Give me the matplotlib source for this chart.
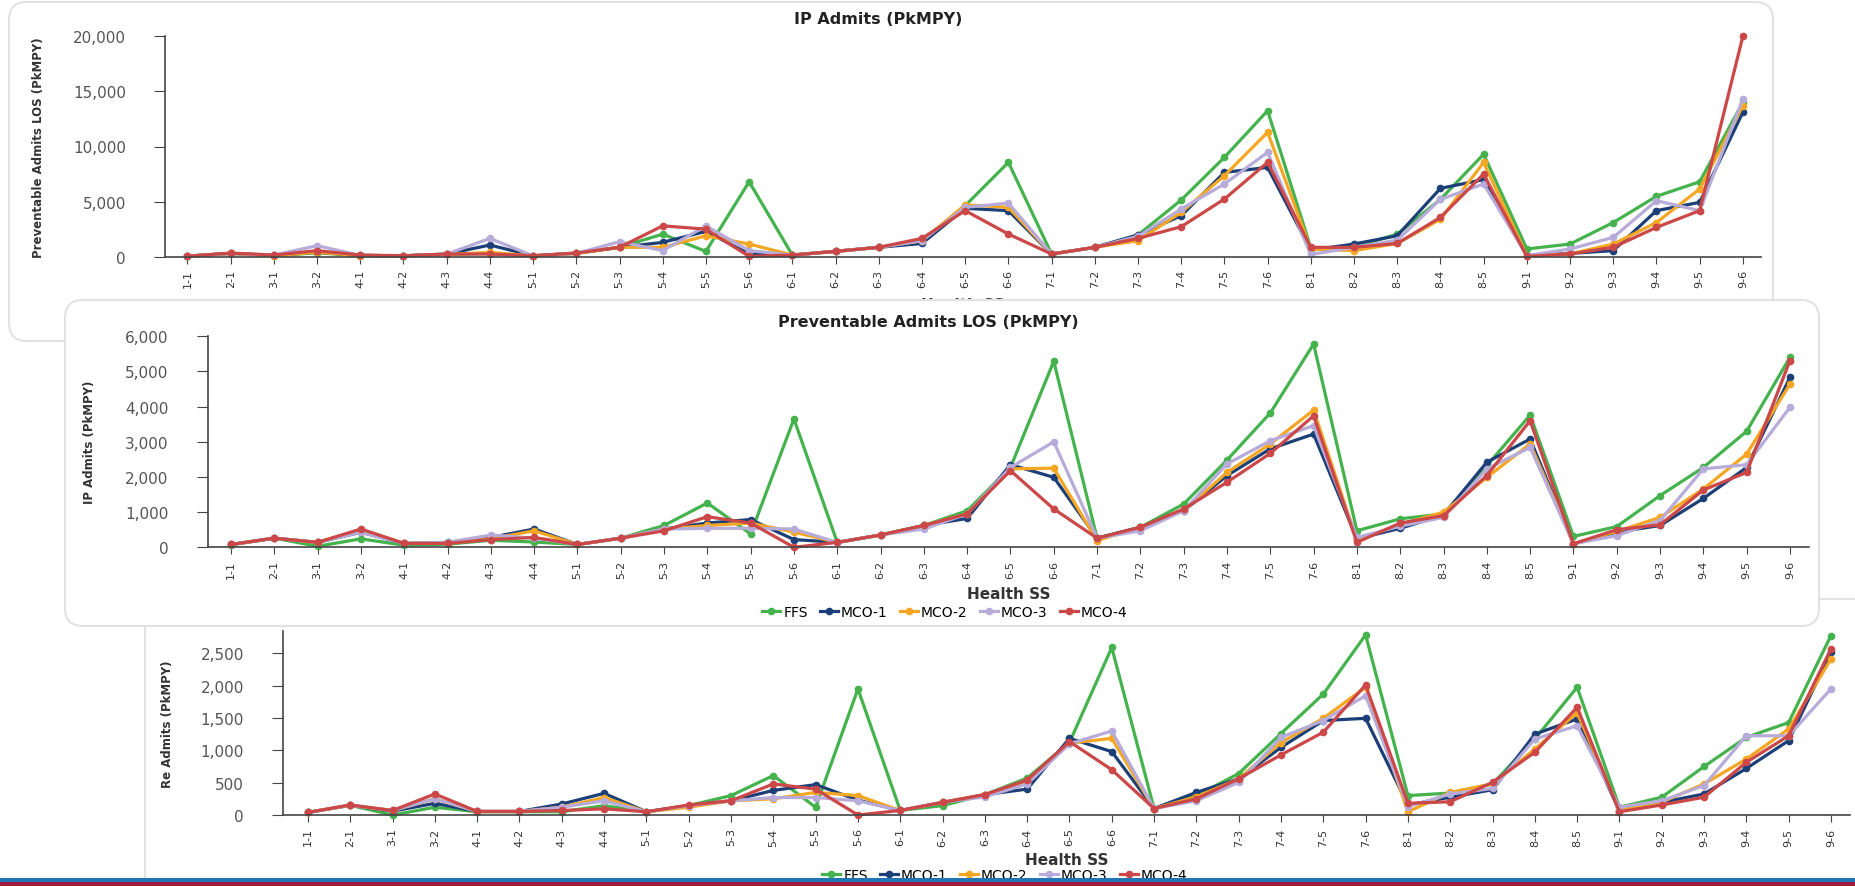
import matplotlib.pyplot as plt
from matplotlib.patches import FancyBboxPatch, Rectangle
import numpy as np

cats = ["1-1", "2-1", "3-1", "3-2", "4-1", "4-2", "4-3", "4-4", "5-1", "5-2", "5-3", "5-4",
        "5-5", "5-6", "6-1", "6-2", "6-3", "6-4", "6-5", "6-6", "7-1", "7-2", "7-3", "7-4",
        "7-5", "7-6", "8-1", "8-2", "8-3", "8-4", "8-5", "9-1", "9-2", "9-3", "9-4", "9-5", "9-6"]
series = ["FFS", "MCO-1", "MCO-2", "MCO-3", "MCO-4"]
colors = ["#45b34d", "#1c3f78", "#f5a623", "#b7acd9", "#cc4747"]

# top chart - IP Admits (PkMPY)
ip_ffs = [50, 300, 100, 350, 100, 80, 200, 300, 80, 300, 850, 2050, 480, 6800, 150, 480, 850, 1400, 4630,
          8560, 240, 850, 1970, 5140, 9020, 13250, 800, 850, 2050, 5200, 9300, 700, 1150, 3100, 5480, 6800, 14000]
ip_mco1 = [50, 300, 120, 400, 120, 80, 240, 1060, 80, 330, 850, 1300, 2300, 250, 150, 500, 850, 1200, 4390,
           4180, 240, 850, 1970, 3720, 7650, 8100, 600, 1150, 1900, 6200, 7000, 100, 300, 550, 4180, 4930, 13100]
ip_mco2 = [50, 300, 100, 400, 100, 80, 200, 390, 80, 300, 850, 850, 1900, 1150, 150, 480, 850, 1450, 4700,
           4480, 240, 850, 1450, 4020, 7350, 11290, 700, 550, 1200, 3400, 8550, 100, 250, 1150, 3100, 6140, 13700]
ip_mco3 = [50, 300, 150, 1000, 120, 80, 240, 1660, 80, 300, 1360, 550, 2800, 550, 150, 480, 850, 1450, 4480,
           4870, 240, 850, 1850, 4330, 6600, 9470, 200, 850, 1500, 5200, 6600, 100, 700, 1750, 5080, 4180, 14300]
ip_mco4 = [50, 330, 150, 550, 150, 90, 240, 240, 90, 330, 850, 2800, 2500, 30, 150, 480, 850, 1660, 4180,
           2060, 240, 850, 1660, 2720, 5230, 8560, 850, 850, 1200, 3570, 7500, 30, 250, 850, 2660, 4180, 20000]

# middle chart - Preventable Admits LOS (PkMPY)
los_ffs = [70, 260, 30, 240, 60, 90, 200, 150, 80, 260, 620, 1260, 380, 3650, 140, 350, 620, 1040, 2270,
           5290, 260, 570, 1230, 2480, 3820, 5780, 470, 810, 950, 2320, 3760, 310, 590, 1470, 2270, 3300, 5400]
los_mco1 = [80, 260, 140, 430, 110, 140, 280, 520, 80, 260, 520, 690, 790, 220, 140, 350, 620, 820, 2350,
            1990, 260, 570, 1040, 2040, 2800, 3220, 240, 540, 920, 2420, 3080, 100, 430, 620, 1390, 2270, 4830]
los_mco2 = [80, 260, 140, 500, 110, 120, 240, 470, 80, 260, 520, 620, 690, 430, 140, 350, 620, 950, 2230,
            2250, 190, 570, 1040, 2130, 2940, 3900, 200, 650, 1000, 1990, 2940, 100, 450, 850, 1660, 2650, 4640]
los_mco3 = [80, 260, 140, 430, 110, 140, 350, 260, 80, 260, 520, 540, 540, 520, 140, 350, 520, 950, 2270,
            3000, 260, 470, 1040, 2370, 3030, 3460, 280, 600, 850, 2230, 2840, 100, 330, 760, 2230, 2350, 3980]
los_mco4 = [80, 260, 140, 520, 110, 110, 220, 280, 80, 260, 470, 870, 690, 0, 140, 350, 620, 950, 2180,
            1090, 260, 570, 1090, 1850, 2670, 3740, 140, 690, 900, 2040, 3600, 100, 500, 640, 1630, 2130, 5310]

# bottom chart - Re Admits (PkMPY)
re_ffs = [40, 150, 0, 120, 50, 50, 50, 145, 50, 145, 300, 610, 120, 1950, 70, 145, 315, 570, 1120,
          2590, 100, 300, 640, 1260, 1870, 2784, 300, 340, 480, 1175, 1975, 120, 275, 750, 1200, 1430, 2775]
re_mco1 = [40, 150, 60, 180, 55, 55, 170, 335, 50, 145, 220, 380, 470, 230, 70, 195, 315, 400, 1185,
           980, 100, 350, 560, 1045, 1460, 1495, 155, 275, 390, 1250, 1485, 65, 195, 325, 720, 1150, 2515]
re_mco2 = [40, 150, 70, 250, 55, 55, 120, 270, 50, 120, 220, 250, 350, 300, 70, 195, 315, 500, 1110,
           1185, 100, 280, 560, 1120, 1495, 1975, 50, 350, 480, 1020, 1580, 80, 200, 480, 865, 1330, 2410]
re_mco3 = [40, 150, 70, 250, 55, 55, 120, 220, 50, 145, 220, 270, 270, 220, 70, 195, 280, 480, 1100,
           1300, 100, 220, 505, 1200, 1460, 1845, 130, 325, 410, 1175, 1380, 120, 220, 455, 1225, 1225, 1950]
re_mco4 = [40, 155, 70, 325, 55, 55, 70, 95, 50, 155, 220, 480, 400, 0, 70, 195, 315, 540, 1135,
           700, 100, 250, 560, 930, 1280, 2010, 180, 205, 505, 970, 1665, 50, 155, 275, 815, 1225, 2570]

W, H = 1856, 887
fig = plt.figure(figsize=(W / 100, H / 100), dpi=100)
fig.patch.set_facecolor("white")


def layer(z):
    # transparent full-figure axes in pixel units, used for the cards and stripes
    a = fig.add_axes([0, 0, 1, 1], zorder=z)
    a.set_xlim(0, W)
    a.set_ylim(H, 0)
    a.axis("off")
    return a


def panel(rect, data, ymax, yticks, xlim, ylabel, lab_x, xlab_y):
    x0, y0, x1, y1 = rect
    ax = fig.add_axes([x0 / W, 1 - y1 / H, (x1 - x0) / W, (y1 - y0) / H])
    ax.set_facecolor("none")
    x = np.arange(len(cats))
    for vals, name, c in zip(data, series, colors):
        ax.plot(x, vals, color=c, lw=2.3, marker="o", ms=4.5, label=name, clip_on=False)
    ax.set_xlim(*xlim)
    ax.set_ylim(0, ymax)
    ax.set_xticks(x)
    ax.set_xticklabels(cats, rotation=90, fontsize=8, color="#333333")
    ax.set_yticks(yticks)
    ax.set_yticklabels([f"{v:,}" for v in yticks], fontsize=11, color="#555555")
    ax.tick_params(axis="x", length=5, pad=4, color="#444444")
    ax.tick_params(axis="y", length=8, pad=20, color="#444444")
    for s in ["top", "right"]:
        ax.spines[s].set_visible(False)
    for s in ["left", "bottom"]:
        ax.spines[s].set_color("#444444")
        ax.spines[s].set_linewidth(1.2)
    ax.set_ylabel(ylabel, fontsize=8.5, fontweight="bold", color="#333333")
    ax.yaxis.set_label_coords(lab_x, 0.5)
    ax.set_xlabel("Health SS", fontsize=11, fontweight="bold", color="#333333")
    ax.xaxis.set_label_coords(0.5, xlab_y)
    return ax


# cards behind the first and last chart
bg = layer(0)
bg.add_patch(FancyBboxPatch((9, 3), 1764, 339, boxstyle="round,pad=0,rounding_size=18",
                            fc="white", ec="#e2e2e2", lw=1.5))
bg.add_patch(FancyBboxPatch((145, 600), 1800, 400, boxstyle="round,pad=0,rounding_size=18",
                            fc="white", ec="#e2e2e2", lw=1.5))

ax1 = panel((165, 37.3, 1761, 257.7), [ip_ffs, ip_mco1, ip_mco2, ip_mco3, ip_mco4],
            20000, [0, 5000, 10000, 15000, 20000], (-0.52, 36.42),
            "Preventable Admits LOS (PkMPY)", -0.0752, -0.183)
ax1.set_zorder(1)
ax1.text(0.4467, 1.0785, "IP Admits (PkMPY)", transform=ax1.transAxes, ha="center", va="center",
         fontsize=11.5, fontweight="bold", color="#222222")

ax3 = panel((283, 632, 1850, 816), [re_ffs, re_mco1, re_mco2, re_mco3, re_mco4],
            2845, [0, 500, 1000, 1500, 2000, 2500], (-0.59, 36.45),
            "Re Admits (PkMPY)", -0.0696, -0.201)
ax3.set_zorder(1)
ax3.legend(loc="center", bbox_to_anchor=(1005 / W, 1 - 876 / H), bbox_transform=fig.transFigure,
           ncol=5, frameon=False, fontsize=10, handlelength=1.3, handletextpad=0.2, columnspacing=0.9)

# middle card sits on top of the first chart
bg2 = layer(2)
bg2.add_patch(FancyBboxPatch((65, 301), 1754, 326, boxstyle="round,pad=0,rounding_size=18",
                             fc="white", ec="#e2e2e2", lw=1.5))

ax2 = panel((207.6, 337.3, 1809, 548.3), [los_ffs, los_mco1, los_mco2, los_mco3, los_mco4],
            6000, [0, 1000, 2000, 3000, 4000, 5000, 6000], (-0.54, 36.44),
            "IP Admits (PkMPY)", -0.0697, -0.183)
ax2.set_zorder(3)
ax2.text(0.45, 1.0725, "Preventable Admits LOS (PkMPY)", transform=ax2.transAxes, ha="center",
         va="center", fontsize=11.5, fontweight="bold", color="#222222")
ax2.legend(loc="center", bbox_to_anchor=(945 / W, 1 - 613 / H), bbox_transform=fig.transFigure,
           ncol=5, frameon=False, fontsize=10, handlelength=1.3, handletextpad=0.2, columnspacing=0.9)

# bottom stripes
top = layer(4)
top.add_patch(Rectangle((0, 879), W, 4.3, fc="#1f75b6", ec="none"))
top.add_patch(Rectangle((0, 883.3), W, 4, fc="#9e1a3b", ec="none"))

plt.savefig("out.png", dpi=100, facecolor="white")
